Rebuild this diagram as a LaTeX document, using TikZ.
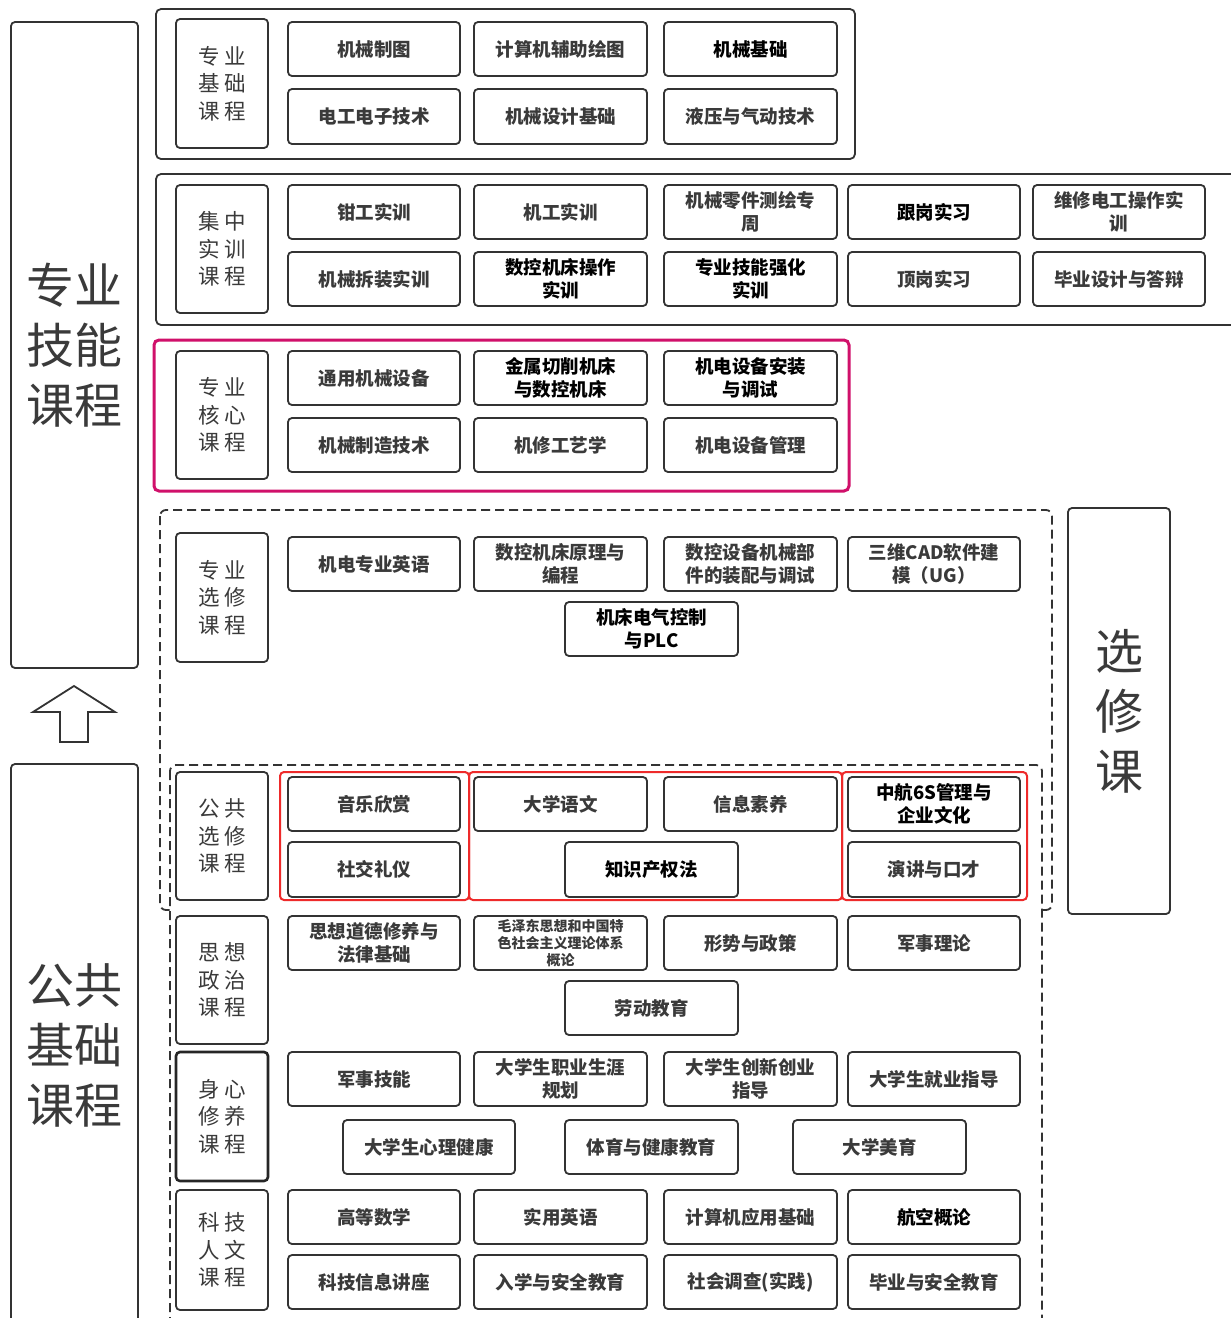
\documentclass[tikz,border=0pt]{standalone}
\usepackage{fontspec}
\setmainfont{Noto Sans CJK SC}
\definecolor{ln}{HTML}{333333}
\definecolor{tx}{HTML}{3A3A3A}
\definecolor{mag}{HTML}{D0106A}
\definecolor{rd}{HTML}{EE2A2A}
\tikzset{
 crs/.style={draw=ln, line width=1.8pt, rounded corners=4pt, fill=white, text=tx, align=center, inner sep=0pt, font=\fontsize{18.5}{23}\selectfont\bfseries},
 hl/.style={text=black},
 sm/.style={font=\fontsize{14}{17}\selectfont\bfseries},
 lbl/.style={font=\fontsize{21.5}{27.5}\selectfont},
 thick lbl/.style={line width=2.6pt, draw=black!85},
 big/.style={font=\fontsize{48}{60}\selectfont},
 grp/.style={draw=ln, line width=1.8pt, rounded corners=5pt},
 maggrp/.style={draw=mag, line width=3pt, rounded corners=5pt},
 redgrp/.style={draw=rd, line width=2pt, rounded corners=4pt},
 dsh/.style={draw=ln, line width=1.8pt, dash pattern=on 9pt off 5pt, rounded corners=6pt},
 arr/.style={draw=ln, line width=1.8pt, line join=miter}
}
\newcommand\bx[7][]{\node[crs,#1,minimum width={#5-#3},minimum height={#6-#4}] (#2) at ({(#3+#5)/2},{(#4+#6)/2}) {#7};}
\newcommand\gp{\hspace{4pt}}
\begin{document}
\begin{tikzpicture}[x=1pt,y=-1pt]
\useasboundingbox (0,0) rectangle (1231,1318);
% big side boxes
\bx[big]{skill}{11}{22}{138}{668}{专业\\技能\\课程}
\draw[arr] (74,686) -- (115,712) -- (88,712) -- (88,742) -- (60,742) -- (60,712) -- (33,712) -- cycle;
\bx[big]{pub}{11}{764}{138}{1326}{公共\\基础\\课程}
\bx[big]{elec}{1068}{508}{1170}{914}{选\\修\\课}
% group 1
\draw[grp] (156,9) rectangle (855,159);
\bx[lbl]{L1}{176}{19}{268}{148}{专\gp 业\\基\gp 础\\课\gp 程}
\bx{a11}{288}{22}{460}{76}{机械制图}
\bx{a12}{474}{22}{647}{76}{计算机辅助绘图}
\bx[hl]{a13}{664}{22}{837}{76}{机械基础}
\bx{a21}{288}{89}{460}{144}{电工电子技术}
\bx{a22}{474}{89}{647}{144}{机械设计基础}
\bx{a23}{664}{89}{837}{144}{液压与气动技术}
% group 2
\draw[grp] (156,174) rectangle (1245,325);
\bx[lbl]{L2}{176}{185}{268}{313}{集\gp 中\\实\gp 训\\课\gp 程}
\bx{b11}{288}{185}{460}{239}{钳工实训}
\bx{b12}{474}{185}{647}{239}{机工实训}
\bx{b13}{664}{185}{837}{239}{机械零件测绘专\\周}
\bx[hl]{b14}{848}{185}{1020}{239}{跟岗实习}
\bx{b15}{1033}{185}{1205}{239}{维修电工操作实\\训}
\bx{b21}{288}{252}{460}{306}{机械拆装实训}
\bx[hl]{b22}{474}{252}{647}{306}{数控机床操作\\实训}
\bx[hl]{b23}{664}{252}{837}{306}{专业技能强化\\实训}
\bx{b24}{848}{252}{1020}{306}{顶岗实习}
\bx{b25}{1033}{252}{1205}{306}{毕业设计与答辩}
% group 3
\draw[maggrp] (154,340) rectangle (849,491);
\bx[lbl]{L3}{176}{351}{268}{479}{专\gp 业\\核\gp 心\\课\gp 程}
\bx{c11}{288}{351}{460}{405}{通用机械设备}
\bx[hl]{c12}{474}{351}{647}{405}{金属切削机床\\与数控机床}
\bx[hl]{c13}{664}{351}{837}{405}{机电设备安装\\与调试}
\bx{c21}{288}{418}{460}{472}{机械制造技术}
\bx{c22}{474}{418}{647}{472}{机修工艺学}
\bx{c23}{664}{418}{837}{472}{机电设备管理}
% elective outer
\draw[dsh] (160,510) rectangle (1052,910);
\bx[lbl]{L4}{176}{533}{268}{662}{专\gp 业\\选\gp 修\\课\gp 程}
\bx{d1}{288}{537}{460}{591}{机电专业英语}
\bx{d2}{474}{537}{647}{591}{数控机床原理与\\编程}
\bx{d3}{664}{537}{837}{591}{数控设备机械部\\件的装配与调试}
\bx{d4}{848}{537}{1020}{591}{三维CAD软件建\\模（UG）}
\bx[hl]{d5}{565}{602}{738}{656}{机床电气控制\\与PLC}
% public inner
\draw[dsh, fill=white] (170,765) rectangle (1042,1335);
\draw[redgrp] (280,772) rectangle (469,900);
\draw[redgrp] (469,772) rectangle (842,900);
\draw[redgrp] (842,772) rectangle (1027,900);
\bx[lbl]{L5}{176}{772}{268}{900}{公\gp 共\\选\gp 修\\课\gp 程}
\bx{e11}{288}{777}{460}{831}{音乐欣赏}
\bx{e12}{474}{777}{647}{831}{大学语文}
\bx{e13}{664}{777}{837}{831}{信息素养}
\bx[hl]{e14}{848}{777}{1020}{831}{中航6S管理与\\企业文化}
\bx{e21}{288}{842}{460}{897}{社交礼仪}
\bx[hl]{e22}{565}{842}{738}{897}{知识产权法}
\bx{e24}{848}{842}{1020}{897}{演讲与口才}
\bx[lbl]{L6}{176}{916}{268}{1044}{思\gp 想\\政\gp 治\\课\gp 程}
\bx{f1}{288}{916}{460}{970}{思想道德修养与\\法律基础}
\bx[sm]{f2}{474}{916}{647}{970}{毛泽东思想和中国特\\色社会主义理论体系\\概论}
\bx{f3}{664}{916}{837}{970}{形势与政策}
\bx{f4}{848}{916}{1020}{970}{军事理论}
\bx{f5}{565}{981}{738}{1035}{劳动教育}
\bx[lbl,thick lbl]{L7}{176}{1052}{268}{1181}{身\gp 心\\修\gp 养\\课\gp 程}
\bx{g1}{288}{1052}{460}{1106}{军事技能}
\bx{g2}{474}{1052}{647}{1106}{大学生职业生涯\\规划}
\bx{g3}{664}{1052}{837}{1106}{大学生创新创业\\指导}
\bx{g4}{848}{1052}{1020}{1106}{大学生就业指导}
\bx{g5}{343}{1120}{515}{1174}{大学生心理健康}
\bx{g6}{565}{1120}{738}{1174}{体育与健康教育}
\bx{g7}{793}{1120}{966}{1174}{大学美育}
\bx[lbl]{L8}{176}{1190}{268}{1310}{科\gp 技\\人\gp 文\\课\gp 程}
\bx{h1}{288}{1190}{460}{1244}{高等数学}
\bx{h2}{474}{1190}{647}{1244}{实用英语}
\bx{h3}{664}{1190}{837}{1244}{计算机应用基础}
\bx[hl]{h4}{848}{1190}{1020}{1244}{航空概论}
\bx{h5}{288}{1255}{460}{1309}{科技信息讲座}
\bx{h6}{474}{1255}{647}{1309}{入学与安全教育}
\bx{h7}{664}{1255}{837}{1309}{社会调查(实践)}
\bx{h8}{848}{1255}{1020}{1309}{毕业与安全教育}
\end{tikzpicture}
\end{document}
